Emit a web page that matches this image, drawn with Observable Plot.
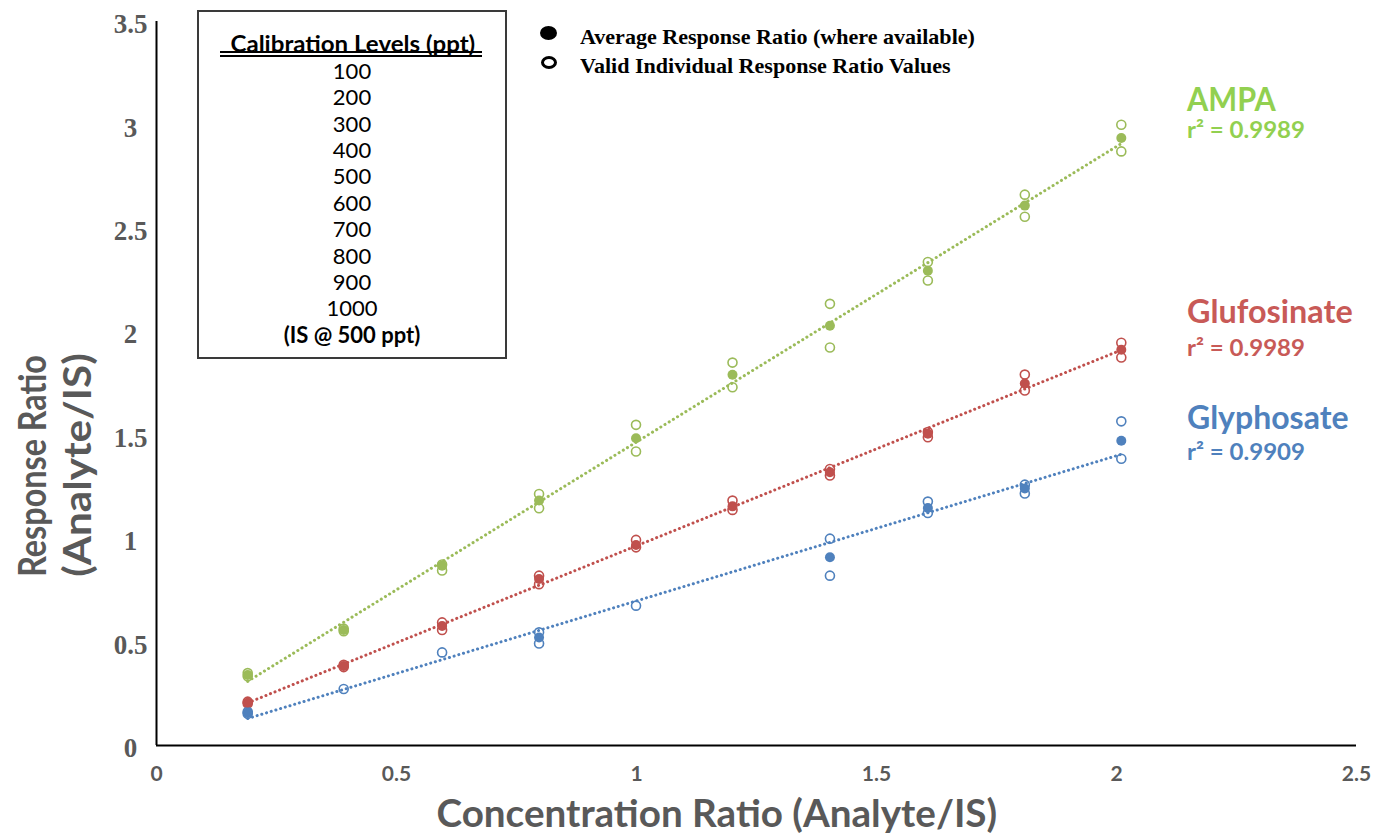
<!DOCTYPE html>
<html><head><meta charset="utf-8">
<script src="https://cdn.jsdelivr.net/npm/d3@7"></script>
<script src="https://cdn.jsdelivr.net/npm/@observablehq/plot@0.6"></script>
<style>
body{margin:0;background:#fff;}
#wrap{position:relative;width:1384px;height:834px;overflow:hidden;font-family:Lato,"Open Sans",sans-serif;}
.abs{position:absolute;white-space:nowrap;line-height:1;}
g[aria-label="y-axis tick label"] text{font-family:"Liberation Serif","Times New Roman",serif;font-weight:bold;font-size:27px;fill:#595959;}
g[aria-label="x-axis tick label"] text{font-family:Lato,sans-serif;font-weight:bold;font-size:21px;fill:#595959;}
</style></head><body><div id="wrap"></div>
<script>
// ---- data ----
const concRatio = [0.19, 0.39, 0.595, 0.797, 0.999, 1.2, 1.403, 1.607, 1.809, 2.01];

const ampaAvg  = [0.341, 0.558, 0.869, 1.184, 1.485, 1.792, 2.029, 2.295, 2.610, 2.937];
const ampaHigh = [0.350, 0.565, 0.875, 1.216, 1.550, 1.851, 2.135, 2.337, 2.663, 3.001];
const ampaLow  = [0.335, 0.552, 0.846, 1.147, 1.421, 1.732, 1.924, 2.248, 2.556, 2.872];

const glufAvg  = [0.207, 0.384, 0.578, 0.805, 0.969, 1.156, 1.321, 1.507, 1.750, 1.913];
const glufHigh = [0.212, 0.390, 0.595, 0.821, 0.994, 1.184, 1.337, 1.515, 1.793, 1.947];
const glufLow  = [0.203, 0.379, 0.558, 0.780, 0.958, 1.139, 1.305, 1.490, 1.716, 1.876];

const glyAvg  = [0.158, null, null, 0.522, null, null, 0.910, 1.148, 1.242, 1.473];
const glyHigh = [0.163, 0.273, 0.450, 0.547, 0.676, null, 1.000, 1.179, 1.261, 1.567];
const glyLow  = [0.153, null, null, 0.493, null, null, 0.821, 1.124, 1.218, 1.386];

const seriesNames = ["AMPA", "Glufosinate", "Glyphosate"];
const rSquared = ["0.9989", "0.9989", "0.9909"];
const calibrationLevels = [100, 200, 300, 400, 500, 600, 700, 800, 900, 1000];
const xTicks = [0, 0.5, 1, 1.5, 2, 2.5];
const yTicks = [0, 0.5, 1, 1.5, 2, 2.5, 3, 3.5];

// ---- build tables ----
const seriesColors = ["#9BBB59", "#C0504D", "#4F81BD"];
const labelColors = ["#92D050", "#C85A57", "#4F81BD"];
const seriesData = [[ampaAvg, ampaHigh, ampaLow], [glufAvg, glufHigh, glufLow], [glyAvg, glyHigh, glyLow]];
const avgPts = [], indPts = [], fitPts = [];
seriesNames.forEach((name, k) => {
  const [avg, hi, lo] = seriesData[k];
  concRatio.forEach((x, i) => {
    if (avg[i] != null) avgPts.push({series: name, x, y: avg[i]});
    if (hi[i] != null) indPts.push({series: name, x, y: hi[i]});
    if (lo[i] != null) indPts.push({series: name, x, y: lo[i]});
    const f = avg[i] ?? hi[i];
    if (f != null) fitPts.push({series: name, x, y: f});
  });
});

const plot = Plot.plot({
  width: 1384, height: 834,
  marginLeft: 156, marginRight: 28, marginTop: 21, marginBottom: 89,
  x: {domain: [0, 2.5]},
  y: {domain: [0, 3.5]},
  color: {domain: seriesNames, range: seriesColors},
  style: {background: "transparent", overflow: "visible"},
  marks: [
    Plot.axisX({ticks: xTicks, tickSize: 0, tickPadding: 21, tickFormat: d => String(d), label: null, fontSize: 21}),
    Plot.axisY({ticks: yTicks, tickSize: 0, tickPadding: 26, textAnchor: "middle", dy: 3, tickFormat: d => String(d), label: null, fontSize: 27}),
    Plot.linearRegressionY(fitPts, {x: "x", y: "y", stroke: "series", ci: 0, strokeWidth: 3, strokeDasharray: "0.1 4.8", strokeLinecap: "round"}),
    Plot.dot(indPts, {x: "x", y: "y", stroke: "series", r: 4.5, strokeWidth: 1.6, fill: "none"}),
    Plot.dot(avgPts, {x: "x", y: "y", fill: "series", r: 5}),
    Plot.ruleY([0], {stroke: "#000", strokeWidth: 2}),
    Plot.ruleX([0], {stroke: "#000", strokeWidth: 2})
  ]
});
const wrap = document.getElementById("wrap");
plot.style.position = "absolute"; plot.style.left = "0"; plot.style.top = "0";
wrap.appendChild(plot);

function addDiv(html, css) {
  const d = document.createElement("div");
  d.className = "abs";
  d.innerHTML = html;
  Object.assign(d.style, css);
  wrap.appendChild(d);
  return d;
}
// text fitted to a target length; anchor "left" or "center"; optional rotation
function fitText(text, {x, cy, font, color, target, anchor = "left", rotate = false}) {
  const d = addDiv(text, {font, color, left: "0px", top: "0px"});
  const w = d.offsetWidth, h = d.offsetHeight;
  const s = target ? target / w : 1;
  d.style.top = (cy - h / 2) + "px";
  if (rotate) {
    d.style.left = (x - w / 2) + "px";
    d.style.transformOrigin = "50% 50%";
    d.style.transform = `rotate(-90deg) scaleX(${s})`;
  } else if (anchor === "center") {
    d.style.left = (x - w / 2) + "px";
    d.style.transformOrigin = "50% 50%";
    d.style.transform = `scaleX(${s})`;
  } else {
    d.style.left = x + "px";
    d.style.transformOrigin = "0 50%";
    d.style.transform = `scaleX(${s})`;
  }
  return d;
}

const grey = "#595959";
// Axis titles
fitText("Concentration Ratio (Analyte/IS)", {x: 717, cy: 812, font: "bold 38px Lato, sans-serif", color: grey, target: 561, anchor: "center"});
fitText("Response Ratio", {x: 31, cy: 466, font: "bold 38px Lato, sans-serif", color: grey, target: 222, rotate: true});
fitText("(Analyte/IS)", {x: 76, cy: 465, font: "bold 38px Lato, sans-serif", color: grey, target: 224, rotate: true});

// Calibration box
addDiv("", {left: "197px", top: "10px", width: "310px", height: "349px", border: "2px solid #3a3a3a", boxSizing: "border-box", background: "#fff"});
fitText("Calibration Levels (ppt)", {x: 353, cy: 43, font: "bold 22px Lato, sans-serif", color: "#000", target: 245, anchor: "center"});
addDiv("", {left: "220px", top: "51px", width: "262px", height: "2px", borderTop: "2px solid #000", borderBottom: "2px solid #000"});
const levelsHtml = calibrationLevels.map(v => `<div>${v}</div>`).join("") + `<div style="font-weight:bold">(IS @ 500 ppt)</div>`;
addDiv(levelsHtml, {left: "197px", width: "310px", top: "57.8px", textAlign: "center", font: "22px Lato, sans-serif", lineHeight: "26.4px", color: "#000"});

// Marker legend
addDiv("", {left: "539.5px", top: "26px", width: "17px", height: "14px", borderRadius: "50%", background: "#000"});
addDiv("", {left: "540.5px", top: "56px", width: "10px", height: "7px", borderRadius: "50%", border: "3px solid #000"});
fitText("Average Response Ratio (where available)", {x: 580, cy: 37, font: "bold 22px 'Liberation Serif', 'Times New Roman', serif", color: "#000", target: 395});
fitText("Valid Individual Response Ratio Values", {x: 580, cy: 66, font: "bold 22px 'Liberation Serif', 'Times New Roman', serif", color: "#000", target: 371});

// Series labels
const labelRows = [[98, 129], [310, 347], [416, 451]];
const nameWidths = [89, 166, 162];
seriesNames.forEach((name, k) => {
  fitText(name, {x: 1187, cy: labelRows[k][0], font: "bold 32px Lato, sans-serif", color: labelColors[k], target: nameWidths[k]});
  fitText("r² = " + rSquared[k], {x: 1187, cy: labelRows[k][1], font: "bold 23px Lato, sans-serif", color: labelColors[k], target: 118});
});
</script></body></html>
